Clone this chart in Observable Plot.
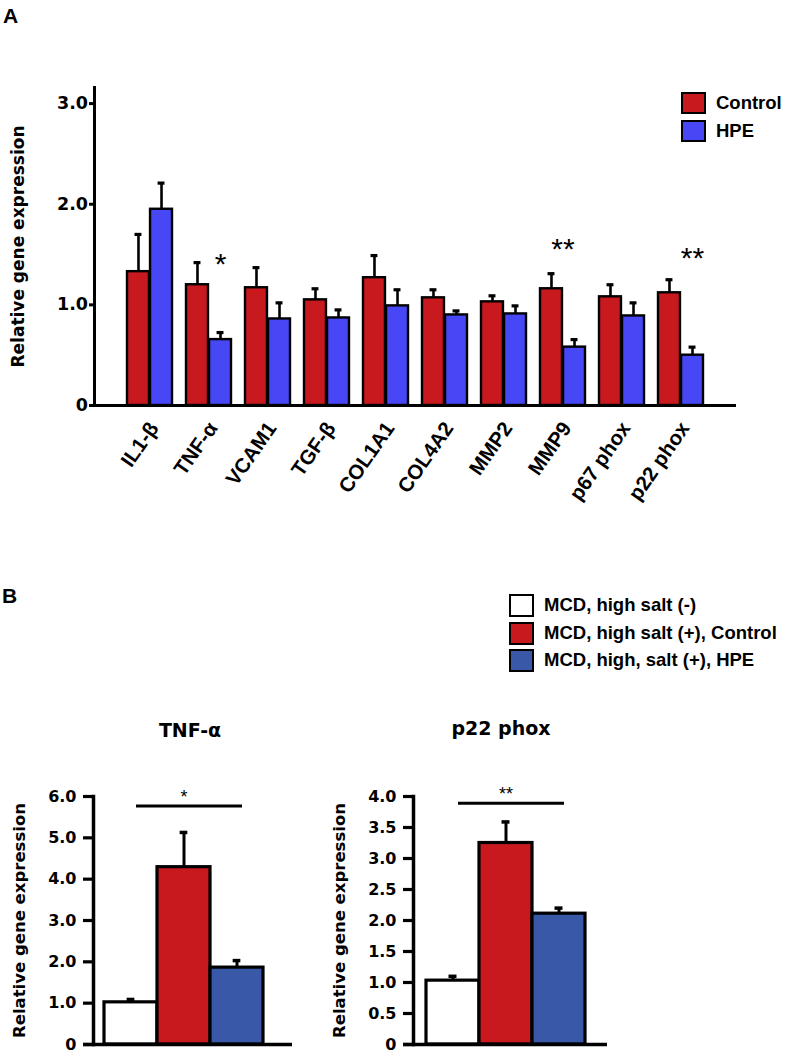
<!DOCTYPE html>
<html><head><meta charset="utf-8">
<script src="https://cdn.jsdelivr.net/npm/d3@7"></script>
<script src="https://cdn.jsdelivr.net/npm/@observablehq/plot@0.6"></script>
<style>
body{margin:0;background:#fff;}
#wrap{position:relative;width:787px;height:1060px;overflow:hidden;background:#fff;font-family:"Liberation Sans",Arial,sans-serif;color:#000;}
.panel{position:absolute;font-weight:bold;font-size:21px;line-height:1;}
.lg{position:absolute;display:flex;align-items:center;font-weight:bold;font-size:18.5px;line-height:1;white-space:nowrap;}
.lg .sw{box-sizing:border-box;width:25px;height:23px;border:2.6px solid #000;margin-right:10px;}
.ttl{position:absolute;font-family:"DejaVu Sans",sans-serif;font-weight:bold;font-size:19px;line-height:1;transform:translateX(-50%);white-space:nowrap;}
</style></head><body><div id="wrap"></div>
<script>
// ---------- Panel A data ----------
const genes = ["IL1-β","TNF-α","VCAM1","TGF-β","COL1A1","COL4A2","MMP2","MMP9","p67 phox","p22 phox"];
const controlMean = [1.33,1.20,1.17,1.05,1.27,1.07,1.03,1.16,1.08,1.12];
const controlErr  = [0.37,0.22,0.20,0.11,0.22,0.08,0.06,0.15,0.12,0.13];
const hpeMean     = [1.95,0.655,0.86,0.87,0.99,0.90,0.91,0.58,0.89,0.50];
const hpeErr      = [0.26,0.07,0.16,0.08,0.16,0.04,0.08,0.075,0.13,0.08];
const seriesA = ["Control","HPE"];
const colorsA = ["#C8191E","#4747F5"];
const yTicksA = [0,1,2,3];
const starsA = [
  {gene:"TNF-α", label:"*", y:1.40, over:"HPE"},
  {gene:"MMP9", label:"**", y:1.55, over:"both"},
  {gene:"p22 phox", label:"**", y:1.46, over:"HPE"}
];
const yLabel = "Relative gene expression";

// ---------- Panel B data ----------
const groupsB = ["MCD, high salt (-)","MCD, high salt (+), Control","MCD, high, salt (+), HPE"];
const colorsB = ["#FFFFFF","#C8191E","#3A58A8"];
const tnfMean = [1.02,4.29,1.86];
const tnfErr  = [0.07,0.84,0.17];
const tnfTicks = [0,1,2,3,4,5,6];
const p22Mean = [1.03,3.25,2.11];
const p22Err  = [0.07,0.34,0.09];
const p22Ticks = [0,0.5,1,1.5,2,2.5,3,3.5,4];
const titlesB = ["TNF-α","p22 phox"];
const sigB = ["*","**"];

const wrap = document.getElementById("wrap");
function place(node,left,top){const d=document.createElement("div");d.style.position="absolute";d.style.left=left+"px";d.style.top=top+"px";d.appendChild(node);wrap.appendChild(d);}
function div(cls,html,left,top){const d=document.createElement("div");d.className=cls;d.innerHTML=html;d.style.left=left+"px";d.style.top=top+"px";wrap.appendChild(d);return d;}
const fmt1 = d => d===0 ? "0" : d.toFixed(1);

// ---------- Panel A ----------
const W=787,HA=530,mLA=94,mRA=51,mTA=87,mBA=125,piA=0.23,poA=0.48;
const bwA=(W-mLA-mRA)/(genes.length-piA+2*poA)*(1-piA);
const dataA = genes.map((g,i)=>({gene:g,c:controlMean[i],ce:controlErr[i],h:hpeMean[i],he:hpeErr[i]}));
const plotA = Plot.plot({
  width:W,height:HA,marginLeft:mLA,marginRight:mRA,marginTop:mTA,marginBottom:mBA,
  style:{fontFamily:"DejaVu Sans",fontWeight:"bold",fontSize:"17.5px",color:"#000",background:"transparent",overflow:"visible"},
  x:{domain:genes,paddingInner:piA,paddingOuter:poA,axis:null},
  y:{domain:[0,3.16]},
  marks:[
    Plot.ruleX(dataA,{x:"gene",y1:"c",y2:d=>d.c+d.ce,dx:-bwA/4,strokeWidth:2.6,stroke:"#000"}),
    Plot.tickY(dataA,{x:"gene",y:d=>d.c+d.ce,dx:-bwA/4,insetLeft:bwA/2-4,insetRight:bwA/2-4,strokeWidth:3.2,stroke:"#000"}),
    Plot.ruleX(dataA,{x:"gene",y1:"h",y2:d=>d.h+d.he,dx:bwA/4,strokeWidth:2.6,stroke:"#000"}),
    Plot.tickY(dataA,{x:"gene",y:d=>d.h+d.he,dx:bwA/4,insetLeft:bwA/2-4,insetRight:bwA/2-4,strokeWidth:3.2,stroke:"#000"}),
    Plot.barY(dataA,{x:"gene",y:"c",fill:colorsA[0],stroke:"#000",strokeWidth:2.4,insetRight:bwA/2}),
    Plot.barY(dataA,{x:"gene",y:"h",fill:colorsA[1],stroke:"#000",strokeWidth:2.4,insetLeft:bwA/2}),
    Plot.ruleY([0],{strokeWidth:3,insetLeft:-5,stroke:"#000"}),
    Plot.frame({anchor:"left",strokeWidth:3,stroke:"#000"}),
    Plot.axisY({ticks:yTicksA,tickFormat:fmt1,tickSize:5,tickPadding:1.5,strokeWidth:3,fontSize:17.5,label:null}),
    Plot.text(genes,{x:d=>d,text:d=>d,frameAnchor:"bottom",rotate:-55,textAnchor:"end",lineAnchor:"middle",dx:4,dy:19,fontSize:20.5,fontFamily:"Liberation Sans",fill:"#000"}),
    ...starsA.map(s=>Plot.text([s],{x:"gene",y:"y",text:"label",dx:s.over==="HPE"?bwA/4:0,fontSize:30,fontFamily:"Liberation Sans",fontWeight:"normal",fill:"#000"})),
    Plot.text([yLabel],{text:d=>d,frameAnchor:"left",textAnchor:"middle",rotate:-90,dx:-76,fontSize:17,fill:"#000"})
  ]
});
place(plotA,0,0);

// Panel labels and legend A
div("panel","A",3,5);
div("panel","B",2,585);
seriesA.forEach((s,i)=>{div("lg",`<span class="sw" style="background:${colorsA[i]};height:22px"></span>${s}`,681,92+i*28);});

// ---------- Panel B ----------
function makeB(means,errs,ticks,ymax,sig,sigY,pad,align,mR){
  const Wb=330,mL=93;
  const bw=(Wb-mL-mR)/(groupsB.length+2*pad);
  const data = groupsB.map((g,i)=>({g,m:means[i],e:errs[i]}));
  return Plot.plot({
    width:Wb,height:360,marginLeft:mL,marginRight:mR,marginTop:96,marginBottom:16,
    style:{fontFamily:"DejaVu Sans",fontWeight:"bold",fontSize:"16px",color:"#000",background:"transparent",overflow:"visible"},
    x:{domain:groupsB,paddingInner:0,paddingOuter:pad,align,axis:null},
    y:{domain:[0,ymax]},
    color:{domain:groupsB,range:colorsB},
    marks:[
      Plot.ruleX(data,{x:"g",y1:"m",y2:d=>d.m+d.e,strokeWidth:3,stroke:"#000"}),
      Plot.tickY(data,{x:"g",y:d=>d.m+d.e,insetLeft:bw/2-4,insetRight:bw/2-4,strokeWidth:3.5,stroke:"#000"}),
      Plot.barY(data,{x:"g",y:"m",fill:"g",stroke:"#000",strokeWidth:3.2}),
      Plot.ruleY([0],{strokeWidth:3.5,insetLeft:-10,stroke:"#000"}),
      Plot.frame({anchor:"left",strokeWidth:3.5,stroke:"#000"}),
      Plot.axisY({ticks,tickFormat:fmt1,tickSize:10,tickPadding:7,strokeWidth:3.2,fontSize:16,label:null}),
      Plot.link([{a:groupsB[0],b:groupsB[2],y:sigY}],{x1:"a",x2:"b",y1:"y",y2:"y",dx:5,strokeWidth:3,stroke:"#000"}),
      Plot.text([{x:groupsB[1],y:sigY,t:sig}],{x:"x",y:"y",text:"t",dy:-9,fontSize:18,fontFamily:"Liberation Sans",fontWeight:"normal",fill:"#000"}),
      Plot.text([yLabel],{text:d=>d,frameAnchor:"left",textAnchor:"middle",rotate:-90,dx:-74,fontSize:16.5,fill:"#000"})
    ]
  });
}
place(makeB(tnfMean,tnfErr,tnfTicks,6,sigB[0],5.77,0.367,0.28,38),0,700);
place(makeB(p22Mean,p22Err,p22Ticks,4,sigB[1],3.89,0.33,0.36,43),320,700);

div("ttl",titlesB[0],190,721);
div("ttl",titlesB[1],501,719);

groupsB.forEach((g,i)=>{div("lg",`<span class="sw" style="background:${colorsB[i]}"></span>${g}`,509,[594,622,649][i]);});
</script></body></html>
